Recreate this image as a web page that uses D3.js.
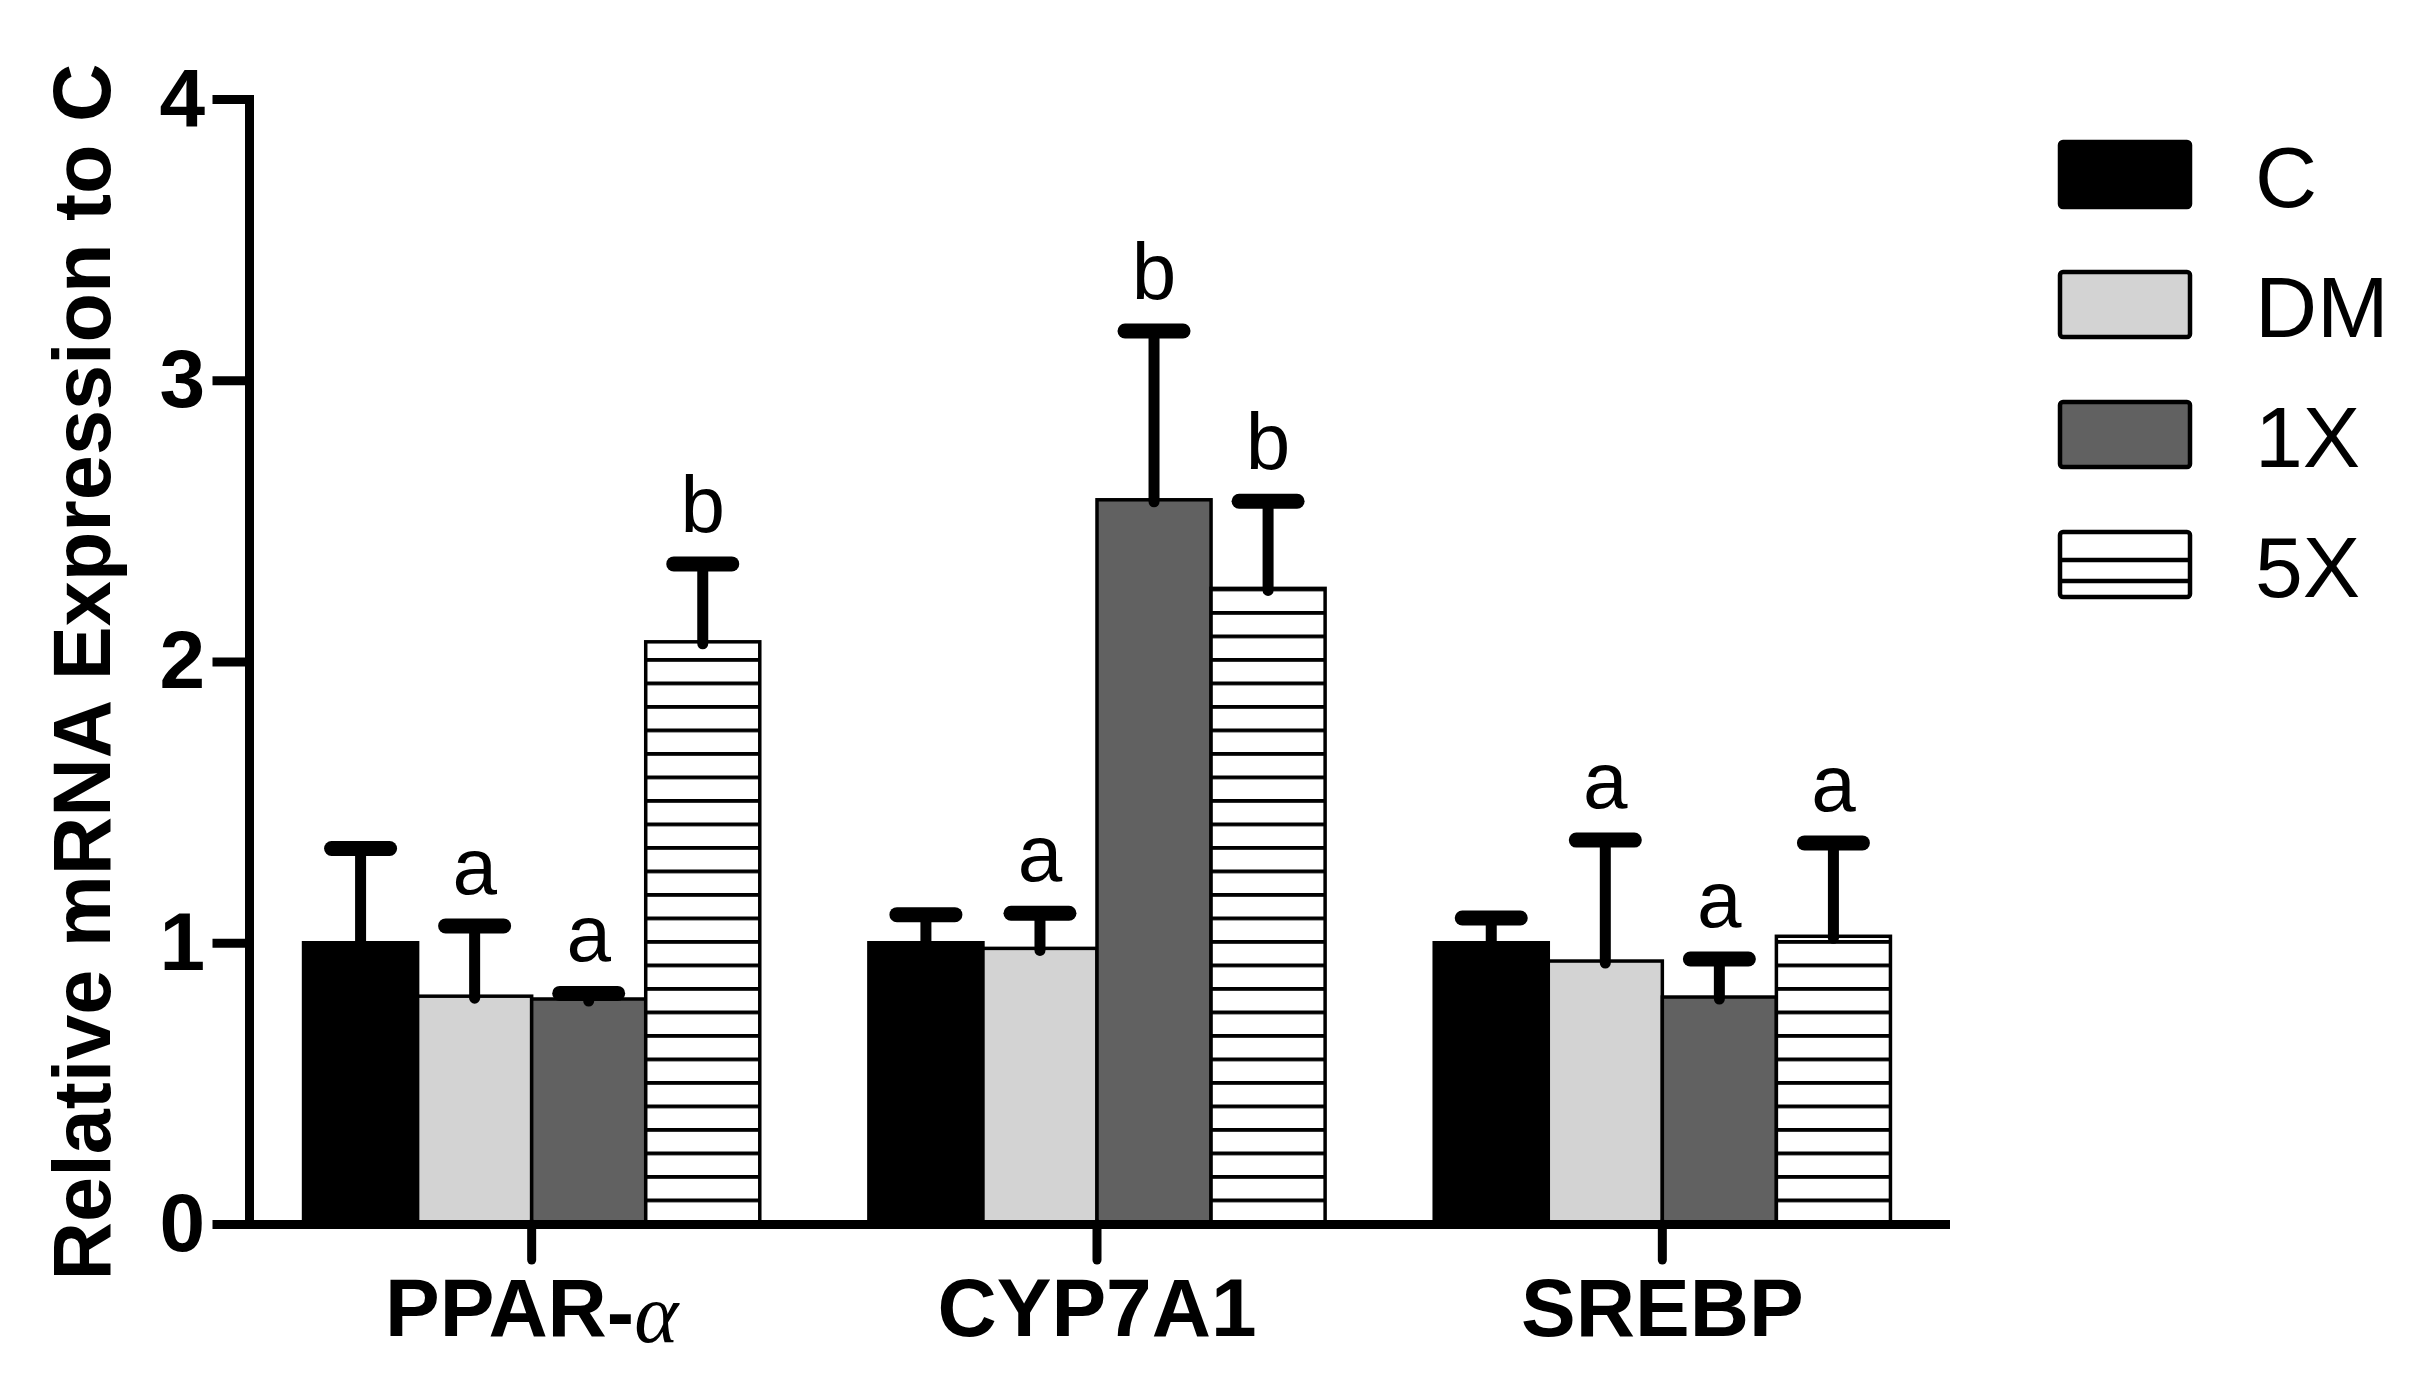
<!DOCTYPE html>
<html>
<head>
<meta charset="utf-8">
<script src="https://cdn.jsdelivr.net/npm/d3@7"></script>
<style>
  html, body { margin: 0; padding: 0; background: #fff; }
  svg { display: block; }
</style>
</head>
<body>
<svg id="chart" width="2418" height="1377"></svg>
<script>
// ---------------- data ----------------
const groups = ["PPAR-α", "CYP7A1", "SREBP"];
const series = ["C", "DM", "1X", "5X"];
const meanC  = [1.00, 1.00, 1.00];
const meanDM = [0.81, 0.98, 0.935];
const mean1X = [0.80, 2.575, 0.807];
const mean5X = [2.07, 2.26, 1.023];
const errC   = [0.335, 0.10, 0.088];
const errDM  = [0.25, 0.125, 0.43];
const err1X  = [0.02, 0.60, 0.135];
const err5X  = [0.277, 0.31, 0.332];
const lettersC  = ["", "", ""];
const lettersDM = ["a", "a", "a"];
const letters1X = ["a", "b", "a"];
const letters5X = ["b", "b", "a"];
const yTicks = [0, 1, 2, 3, 4];
const yTitle = "Relative mRNA Expression to C";

const means = [meanC, meanDM, mean1X, mean5X];
const errs = [errC, errDM, err1X, err5X];
const letters = [lettersC, lettersDM, letters1X, letters5X];
const fills = ["#000000", "#d3d3d3", "#616161", "url(#hstripe)"];

const table = [];
groups.forEach((g, gi) => {
  series.forEach((s, si) => {
    table.push({ group: g, series: s, si, value: means[si][gi], err: errs[si][gi], letter: letters[si][gi] });
  });
});

// ---------------- layout ----------------
const FONT = "'Liberation Sans', Arial, Helvetica, sans-serif";
const svg = d3.select("#chart");

const y = d3.scaleLinear().domain([0, 4]).range([1224, 99]);
const x0 = d3.scaleBand().domain(groups).range([249, 1945]).paddingInner(0.193).paddingOuter(0.0965);
const x1 = d3.scaleBand().domain(series).range([0, x0.bandwidth()]).padding(0);

// stripe pattern anchored at baseline
const defs = svg.append("defs");
const pat = defs.append("pattern")
  .attr("id", "hstripe")
  .attr("patternUnits", "userSpaceOnUse")
  .attr("x", 0).attr("y", y(0) - 2)
  .attr("width", 20).attr("height", 23.5);
pat.append("rect").attr("width", 20).attr("height", 23.5).attr("fill", "#fff");
pat.append("rect").attr("y", 0).attr("width", 20).attr("height", 3.8).attr("fill", "#000");

// bars
const gBars = svg.append("g");
gBars.selectAll("rect.bar")
  .data(table)
  .join("rect")
  .attr("class", "bar")
  .attr("x", d => x0(d.group) + x1(d.series))
  .attr("y", d => y(d.value))
  .attr("width", x1.bandwidth())
  .attr("height", d => y(0) - y(d.value))
  .attr("fill", d => fills[d.si])
  .attr("stroke", "#000")
  .attr("stroke-width", 3.5);

// error bars
const cx = d => x0(d.group) + x1(d.series) + x1.bandwidth() / 2;
const gErr = svg.append("g");
gErr.selectAll("line.stem")
  .data(table)
  .join("line")
  .attr("x1", cx).attr("x2", cx)
  .attr("y1", d => y(d.value) + 2)
  .attr("y2", d => y(d.value + d.err))
  .attr("stroke", "#000")
  .attr("stroke-width", 11)
  .attr("stroke-linecap", "round");
gErr.selectAll("line.cap")
  .data(table)
  .join("line")
  .attr("x1", d => cx(d) - 29).attr("x2", d => cx(d) + 29)
  .attr("y1", d => y(d.value + d.err))
  .attr("y2", d => y(d.value + d.err))
  .attr("stroke", "#000")
  .attr("stroke-width", 15)
  .attr("stroke-linecap", "round");

// significance letters
svg.append("g").selectAll("text")
  .data(table.filter(d => d.letter))
  .join("text")
  .attr("x", cx)
  .attr("y", d => y(d.value + d.err) - 32)
  .attr("text-anchor", "middle")
  .attr("font-family", FONT)
  .attr("font-size", 80)
  .attr("fill", "#000")
  .text(d => d.letter);

// y axis
const yAxis = svg.append("g")
  .attr("transform", `translate(${x0.range()[0]},0)`)
  .call(d3.axisLeft(y).tickValues(yTicks).tickFormat(d3.format("d")).tickSize(32).tickSizeOuter(0).tickPadding(12));
yAxis.select(".domain").attr("stroke", "#000").attr("stroke-width", 9).attr("stroke-linecap", "square");
yAxis.selectAll(".tick line").attr("stroke", "#000").attr("stroke-width", 9).attr("stroke-linecap", "square");
yAxis.selectAll(".tick text")
  .attr("font-family", FONT).attr("font-size", 82).attr("font-weight", "bold").attr("fill", "#000");

// x axis
const xAxis = svg.append("g")
  .attr("transform", `translate(0,${y(0)})`)
  .call(d3.axisBottom(x0).tickSize(36).tickSizeOuter(0).tickPadding(18));
xAxis.select(".domain").attr("stroke", "#000").attr("stroke-width", 9).attr("stroke-linecap", "square");
xAxis.selectAll(".tick line").attr("stroke", "#000").attr("stroke-width", 9).attr("stroke-linecap", "round");
xAxis.selectAll(".tick text")
  .attr("font-family", FONT).attr("font-size", 82).attr("font-weight", "bold").attr("fill", "#000")
  .each(function(d) {
    if (d.indexOf("-α") >= 0) {
      const t = d3.select(this);
      const base = d.split("-")[0];
      t.text(null);
      t.append("tspan").text(base);
      t.append("tspan").attr("dy", 4).text("-");
      t.append("tspan").attr("dy", 2)
        .attr("font-family", "'Liberation Serif', 'DejaVu Serif', serif")
        .attr("font-weight", "normal").attr("font-style", "italic").attr("font-size", 84)
        .text("α");
    }
  });

// y title
svg.append("text")
  .attr("transform", "translate(110,672) rotate(-90)")
  .attr("text-anchor", "middle")
  .attr("font-family", FONT)
  .attr("font-size", 81)
  .attr("font-weight", "bold")
  .attr("fill", "#000")
  .text(yTitle);

// legend
const legY = d3.scalePoint().domain(series).range([142, 532]);
const leg = svg.append("g").selectAll("g")
  .data(series)
  .join("g")
  .attr("transform", s => `translate(2060,${legY(s)})`);
leg.append("rect")
  .attr("width", 130).attr("height", 65)
  .attr("rx", 3)
  .attr("fill", (s, i) => i === 3 ? "#fff" : fills[i])
  .attr("stroke", "#000").attr("stroke-width", 4.5);
leg.filter((s, i) => i === 3).selectAll("line")
  .data([28, 49])
  .join("line")
  .attr("x1", 0).attr("x2", 130)
  .attr("y1", d => d).attr("y2", d => d)
  .attr("stroke", "#000").attr("stroke-width", 4.5);
leg.append("text")
  .attr("x", 195).attr("y", 65)
  .attr("font-family", FONT)
  .attr("font-size", 86)
  .attr("fill", "#000")
  .text(s => s);
</script>
</body>
</html>
